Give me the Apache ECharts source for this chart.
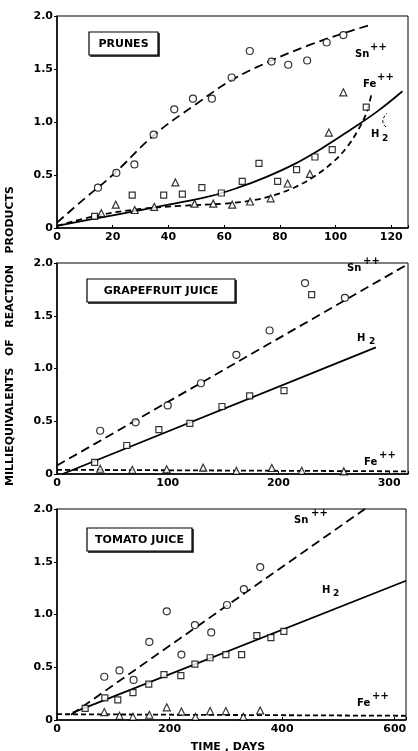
<!DOCTYPE html>
<html>
<head>
<meta charset="utf-8">
<title>Reaction products vs time</title>
<script src="https://cdn.jsdelivr.net/npm/echarts@6/dist/echarts.min.js"></script>
<style>
html, body { margin: 0; padding: 0; background: #fff; }
#chart { width: 418px; height: 751px; }
</style>
</head>
<body>
<div id="chart"></div>
<script>
// ---- data ----
// prunes
const prunesSn = [[14.7,0.38],[21.3,0.52],[27.8,0.60],[34.7,0.88],[42.1,1.12],[48.8,1.22],[55.6,1.22],[62.7,1.42],[69.2,1.67],[77,1.57],[83,1.54],[89.8,1.58],[96.8,1.75],[102.8,1.82]]
const prunesH2 = [[13.5,0.11],[27,0.31],[38.3,0.31],[45,0.32],[52,0.38],[59,0.33],[66.5,0.44],[72.5,0.61],[79.2,0.44],[86,0.55],[92.6,0.67],[98.8,0.74],[111,1.14]]
const prunesFe = [[15.9,0.14],[21.1,0.22],[27.9,0.17],[34.9,0.2],[42.5,0.43],[49.4,0.23],[56.1,0.23],[62.9,0.22],[69.3,0.25],[76.7,0.28],[82.8,0.42],[90.8,0.51],[97.6,0.9],[102.8,1.28]]
const prunesSnCurve = [[0,0.05],[10,0.28],[20,0.5],[35,0.88],[50,1.17],[63,1.4],[77,1.58],[90,1.72],[102,1.83],[113,1.92]]
const prunesH2Curve = [[0,0.02],[20,0.12],[40,0.22],[55,0.3],[65,0.38],[75,0.48],[85,0.6],[95,0.75],[105,0.92],[115,1.1],[124,1.29]]
const prunesFeCurve = [[0,0.02],[15,0.12],[30,0.18],[45,0.21],[60,0.23],[70,0.26],[78,0.31],[85,0.38],[92,0.48],[99,0.62],[104,0.76],[108,0.92],[111,1.08],[113,1.28]]

// grapefruit juice
const grapeSn = [[39,0.41],[71,0.49],[100,0.65],[130,0.86],[162,1.13],[192,1.36],[224,1.81],[260,1.67]]
const grapeH2 = [[34,0.11],[63,0.27],[92,0.42],[120,0.48],[149,0.64],[174,0.74],[205,0.79],[230,1.7]]
const grapeFe = [[39,0.05],[68,0.04],[99,0.045],[132,0.06],[162,0.03],[194,0.057],[221,0.03],[259,0.025]]
const grapeSnLine = [[0,0.08],[317,1.99]]
const grapeH2Line = [[5,0],[288,1.2]]
const grapeFeLine = [[0,0.04],[317,0.025]]

// tomato juice
const tomatoSn = [[84,0.41],[111,0.47],[136,0.38],[164,0.74],[195,1.03],[221,0.62],[245,0.9],[274,0.83],[302,1.09],[332,1.24],[361,1.45]]
const tomatoH2 = [[50,0.11],[85,0.21],[108,0.19],[135,0.26],[163,0.34],[190,0.43],[220,0.42],[245,0.53],[272,0.59],[300,0.62],[328,0.62],[355,0.8],[380,0.78],[403,0.84]]
const tomatoFe = [[84,0.075],[111,0.04],[135,0.03],[164,0.05],[195,0.12],[221,0.08],[246,0.03],[272,0.085],[300,0.085],[331,0.03],[361,0.09]]
const tomatoSnLine = [[25,0.05],[547,2]]
const tomatoH2Line = [[28,0.07],[620,1.32]]
const tomatoFeLine = [[0,0.055],[620,0.04]]

const panelTitles = ['PRUNES', 'GRAPEFRUIT JUICE', 'TOMATO JUICE']
const xMax = [126, 317, 620]
const xStep = [20, 100, 200]

const font = 'DejaVu Sans'
const chart = echarts.init(document.getElementById('chart'))

const grids = [
    { left: 57, top: 16, width: 351, height: 212 },
    { left: 57, top: 263, width: 351, height: 211 },
    { left: 57, top: 509, width: 349, height: 211 },
]

const xAxes = grids.map((g, i) => ({
    type: 'value',
    gridIndex: i,
    min: 0,
    max: xMax[i],
    interval: xStep[i],
    axisLine: { lineStyle: { color: '#000', width: 1.5 } },
    axisTick: { inside: true, length: 3, lineStyle: { color: '#000' } },
    axisLabel: {
        color: '#000', fontFamily: font, fontWeight: 'bold', fontSize: 11, margin: 4,
        formatter: (v) => (v % xStep[i] === 0 ? String(v) : ''),
    },
    splitLine: { show: false },
}))

const yAxes = grids.map((g, i) => ({
    type: 'value',
    gridIndex: i,
    min: 0,
    max: 2,
    interval: 0.5,
    axisLine: { lineStyle: { color: '#000', width: 1.5 } },
    axisTick: { length: 3, lineStyle: { color: '#000' } },
    axisLabel: {
        color: '#000', fontFamily: font, fontWeight: 'bold', fontSize: 11, margin: 4,
        formatter: (v) => (v === 0 ? '0' : v.toFixed(1)),
    },
    splitLine: { show: false },
}))

const curve = (data, i, dash, smooth) => ({
    type: 'line',
    xAxisIndex: i,
    yAxisIndex: i,
    data: data,
    smooth: smooth || false,
    symbol: 'none',
    silent: true,
    lineStyle: { color: '#000', width: 1.8, type: dash },
    z: 2,
})

const dots = (data, i, symbol, size) => ({
    type: 'scatter',
    xAxisIndex: i,
    yAxisIndex: i,
    data: data,
    symbol: symbol,
    symbolSize: size,
    itemStyle: { color: '#fff', borderColor: '#000', borderWidth: 1.2 },
    z: 3,
})

const series = [
    curve(prunesSnCurve, 0, [9, 5], 0.4),
    curve(prunesH2Curve, 0, 'solid', 0.4),
    curve(prunesFeCurve, 0, [6, 4], 0.4),
    dots(prunesSn, 0, 'circle', 7),
    dots(prunesH2, 0, 'rect', 6),
    dots(prunesFe, 0, 'triangle', 7),

    curve(grapeSnLine, 1, [9, 5]),
    curve(grapeH2Line, 1, 'solid'),
    curve(grapeFeLine, 1, [5, 3]),
    dots(grapeSn, 1, 'circle', 7),
    dots(grapeH2, 1, 'rect', 6),
    dots(grapeFe, 1, 'triangle', 7),

    curve(tomatoSnLine, 2, [9, 5]),
    curve(tomatoH2Line, 2, 'solid'),
    curve(tomatoFeLine, 2, [5, 3]),
    dots(tomatoSn, 2, 'circle', 7),
    dots(tomatoH2, 2, 'rect', 6),
    dots(tomatoFe, 2, 'triangle', 7),
]

// text helpers for the graphic layer
const txt = (text, x, y, size, align) => ({
    type: 'text',
    x: x,
    y: y,
    style: {
        text: text, fill: '#000', font: 'bold ' + size + 'px "' + font + '"',
        textAlign: align || 'left', textVerticalAlign: 'middle',
    },
})

const titleBox = (label, x, y, w, h) => [
    { type: 'rect', shape: { x: x, y: y, width: w, height: h }, style: { fill: '#fff', stroke: '#000', lineWidth: 1.2 } },
    { type: 'polyline', shape: { points: [[x + 1, y + h + 1], [x + w + 1, y + h + 1], [x + w + 1, y + 1]] }, style: { stroke: '#000', lineWidth: 1.5, fill: null } },
    txt(label, x + w / 2, y + h / 2 + 1, 11, 'center'),
]

const graphic = [
    ...titleBox(panelTitles[0], 89, 32, 69, 23),
    txt('Sn', 355, 54, 10), txt('++', 370, 47, 10),
    txt('Fe', 363, 84, 10), txt('++', 377, 77, 10),
    txt('H', 371, 134, 10), txt('2', 382, 139, 9),
    { type: 'bezierCurve', shape: { x1: 386, y1: 127, x2: 387, y2: 113, cpx1: 379, cpy1: 122 }, style: { stroke: '#000', lineWidth: 1, lineDash: [3, 2], fill: null } },

    ...titleBox(panelTitles[1], 87, 279, 148, 23),
    txt('Sn', 347, 268, 10), txt('++', 363, 261, 10),
    txt('H', 357, 338, 10), txt('2', 369, 342, 9),
    txt('Fe', 364, 462, 10), txt('++', 379, 455, 10),

    ...titleBox(panelTitles[2], 87, 528, 105, 23),
    txt('Sn', 294, 520, 10), txt('++', 311, 513, 10),
    txt('H', 322, 590, 10), txt('2', 333, 594, 9),
    txt('Fe', 357, 703, 10), txt('++', 372, 696, 10),

    txt('TIME , DAYS', 228, 747, 11, 'center'),
    {
        type: 'text', x: 10, y: 336, rotation: Math.PI / 2,
        style: {
            text: 'MILLIEQUIVALENTS   OF   REACTION   PRODUCTS', fill: '#000',
            font: 'bold 11px "' + font + '"', textAlign: 'center', textVerticalAlign: 'middle',
        },
    },
]

chart.setOption({
    animation: false,
    backgroundColor: '#fff',
    grid: grids.map((g) => ({ ...g, show: true, borderColor: '#000', borderWidth: 1, backgroundColor: 'transparent' })),
    xAxis: xAxes,
    yAxis: yAxes,
    series: series,
    graphic: graphic,
})

window.addEventListener('resize', () => chart.resize())
</script>
</body>
</html>
